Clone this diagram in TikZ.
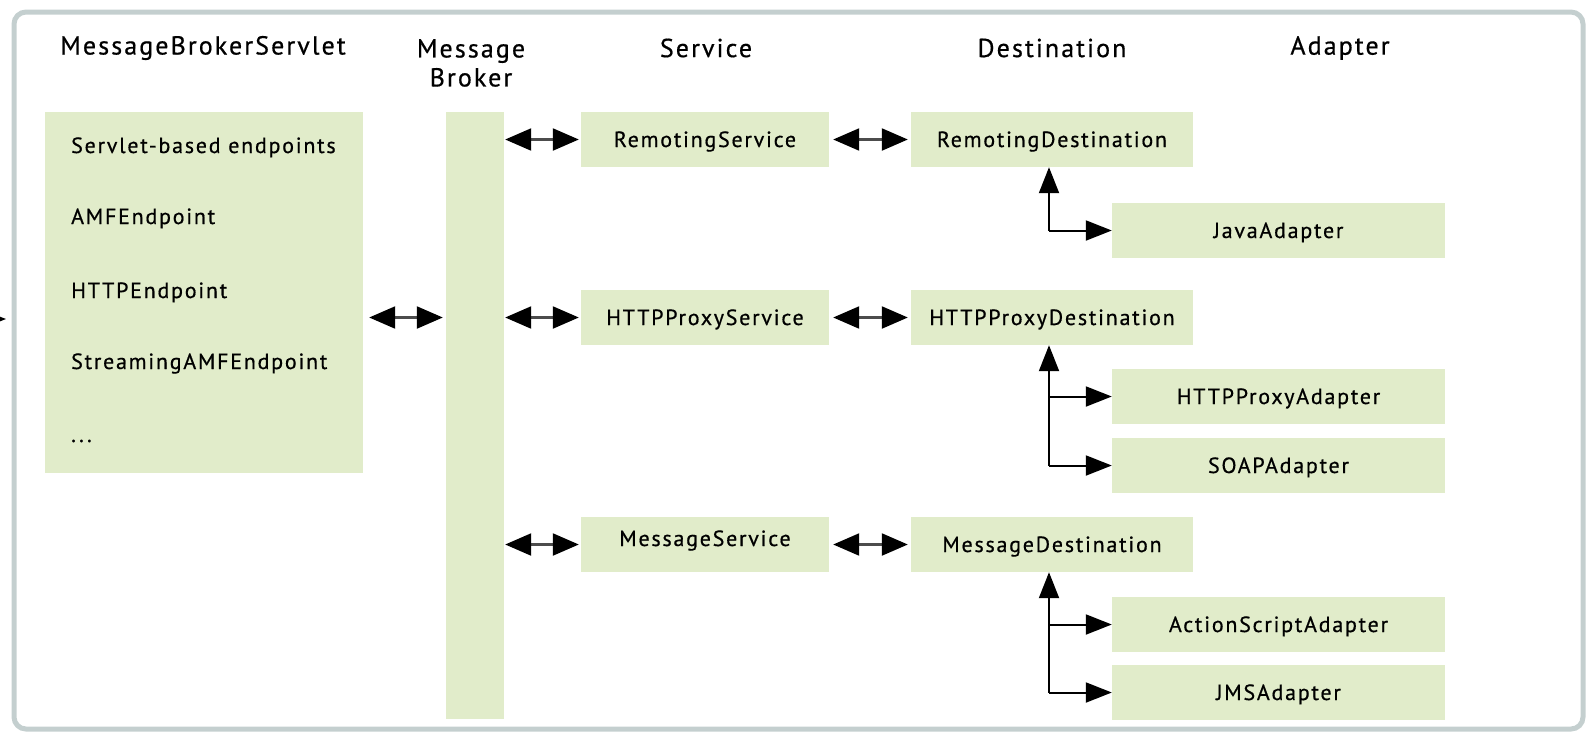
\documentclass[tikz,border=0pt]{standalone}
\usepackage{fontspec}
\setmainfont[LetterSpace=8,FakeBold=0.6]{PT Sans}
\usetikzlibrary{arrows.meta}
\definecolor{boxgreen}{HTML}{E1ECCA}
\definecolor{framegray}{HTML}{C4CFCF}
\begin{document}
\begin{tikzpicture}[x=1pt,y=-1pt,
  txt/.style={font=\fontsize{22}{28}\selectfont, inner sep=0pt},
  hdr/.style={font=\fontsize{26}{29}\selectfont, inner sep=0pt},
  box/.style={fill=boxgreen, draw=none, inner sep=0pt, text height=15pt, text depth=0pt,
    font=\fontsize{22}{28}\selectfont},
  svcbox/.style={box, minimum width=248pt, minimum height=55pt},
  dstbox/.style={box, minimum width=282pt, minimum height=55pt},
  adpbox/.style={box, minimum width=333pt, minimum height=55pt},
  dbl/.style={draw=black!70, line width=2.2pt,
    {Triangle[length=26pt,width=22pt,color=black]}-{Triangle[length=26pt,width=22pt,color=black]}},
  tree/.style={draw=black, line width=2pt, -{Triangle[length=26pt,width=20pt]}}
]
\useasboundingbox (0,0) rectangle (1589,732);
\draw[framegray, line width=5pt, rounded corners=12pt] (14,12) rectangle (1583,729);

% headers
\node[hdr] (h1) at (203,48) {MessageBrokerServlet};
\node[hdr, align=center] (h2) at (471,63) {Message\\Broker};
\node[hdr] (h3) at (706,48) {Service};
\node[hdr] (h4) at (1052,48) {Destination};
\node[hdr] (h5) at (1340,48) {Adapter};

% servlet box
\node[box, minimum width=318pt, minimum height=361pt] (sv) at (204,292.5) {};
\node[txt, anchor=base west] (e1) at (71,153) {Servlet-based endpoints};
\node[txt, anchor=base west] (e2) at (71,224) {AMFEndpoint};
\node[txt, anchor=base west] (e3) at (71,298) {HTTPEndpoint};
\node[txt, anchor=base west] (e4) at (71,369) {StreamingAMFEndpoint};
\node[txt, anchor=base west] (e5) at (71,442) {...};

% broker bar
\node[box, minimum width=58pt, minimum height=607pt] (mb) at (475,415.5) {};

% services
\node[svcbox] (rs) at (705,139.5) {RemotingService};
\node[svcbox] (hs) at (705,317.5) {HTTPProxyService};
\node[svcbox] (ms) at (705,544.5) {\raisebox{6pt}{MessageService}};

% destinations
\node[dstbox] (rd) at (1052,139.5) {RemotingDestination};
\node[dstbox] (hd) at (1052,317.5) {HTTPProxyDestination};
\node[dstbox] (md) at (1052,544.5) {MessageDestination};

% adapters
\node[adpbox] (ja) at (1278.5,230.5) {JavaAdapter};
\node[adpbox] (hpa) at (1278.5,396.5) {HTTPProxyAdapter};
\node[adpbox] (sa) at (1278.5,465.5) {SOAPAdapter};
\node[adpbox] (asa) at (1278.5,624.5) {ActionScriptAdapter};
\node[adpbox] (jms) at (1278.5,692.5) {JMSAdapter};

% incoming arrow at left edge
\coordinate (inl) at (-40,319);
\coordinate (intip) at (6,319);
\draw[tree] (inl) -- (intip);

% servlet <-> broker
\draw[dbl, shorten <=6pt, shorten >=3pt] (sv.east |- hs.west) -- (mb.west |- hs.west);

% broker <-> services
\draw[dbl, shorten <=1pt, shorten >=2pt] (mb.east |- rs.west) -- (rs.west);
\draw[dbl, shorten <=1pt, shorten >=2pt] (mb.east |- hs.west) -- (hs.west);
\draw[dbl, shorten <=1pt, shorten >=2pt] (mb.east |- ms.west) -- (ms.west);

% services <-> destinations
\draw[dbl, shorten <=4pt, shorten >=3pt] (rs.east) -- (rd.west);
\draw[dbl, shorten <=4pt, shorten >=3pt] (hs.east) -- (hd.west);
\draw[dbl, shorten <=4pt, shorten >=3pt] (ms.east) -- (md.west);

% destination -> adapters trees
\coordinate (j1) at ([xshift=-3pt]rd.south |- ja.west);
\draw[tree] (j1) -- ([xshift=-3pt]rd.south);
\draw[tree] (j1) -- (ja.west);

\coordinate (j2) at ([xshift=-3pt]hd.south |- sa.west);
\draw[tree] (j2) -- ([xshift=-3pt]hd.south);
\draw[tree] (j2 |- hpa.west) -- (hpa.west);
\draw[tree] (j2) -- (sa.west);

\coordinate (j3) at ([xshift=-3pt]md.south |- jms.west);
\draw[tree] (j3) -- ([xshift=-3pt]md.south);
\draw[tree] (j3 |- asa.west) -- (asa.west);
\draw[tree] (j3) -- (jms.west);
\end{tikzpicture}
\end{document}
